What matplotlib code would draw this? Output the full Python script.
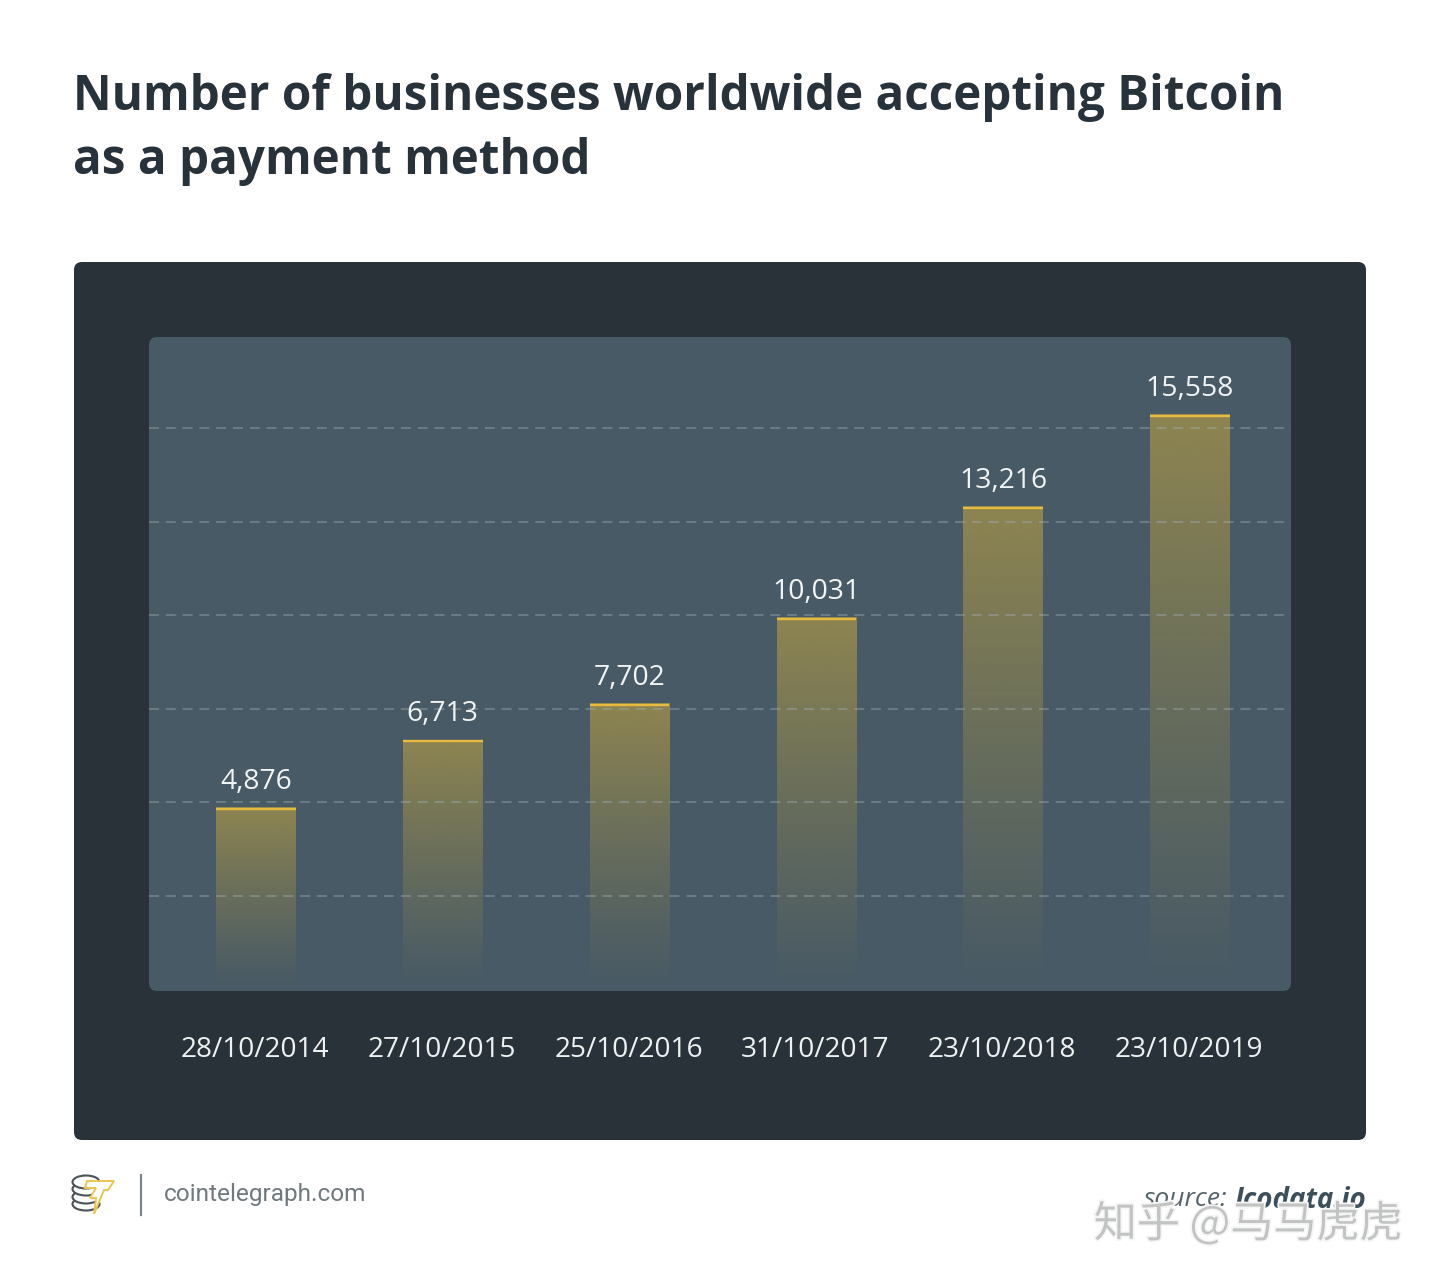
import matplotlib
matplotlib.use("Agg")
import matplotlib.pyplot as plt
import matplotlib.patheffects as pe
from matplotlib.patches import FancyBboxPatch, Ellipse, Polygon
import numpy as np

plt.rcParams['font.family'] = ['Open Sans', 'DejaVu Sans']

dates = ["28/10/2014", "27/10/2015", "25/10/2016", "31/10/2017", "23/10/2018", "23/10/2019"]
# bar heights as drawn in the picture (the 2018 bar sits a little under its label)
bar_heights = [4876, 6713, 7702, 10031, 13050, 15558]
value_labels = ["4,876", "6,713", "7,702", "10,031", "13,216", "15,558"]
grid_levels = [2490, 5030, 7580, 10120, 12660, 15205]

DARK = '#283238'
PANEL = '#485a65'
GOLD = '#e6bb3f'

fig = plt.figure(figsize=(14.4, 12.8), dpi=100, facecolor='white')

# background layer in pixels
bg = fig.add_axes([0, 0, 1, 1])
bg.set_xlim(0, 1440)
bg.set_ylim(1280, 0)
bg.axis('off')

bg.add_patch(FancyBboxPatch((82, 270), 1276, 862, boxstyle="round,pad=8,rounding_size=8",
                            fc=DARK, ec='none'))
bg.add_patch(FancyBboxPatch((157, 345), 1126, 638, boxstyle="round,pad=8,rounding_size=8",
                            fc=PANEL, ec='none'))

bg.text(73, 97, "Number of businesses worldwide accepting Bitcoin", fontsize=34.3,
        fontweight='bold', color='#27323a', va='center', ha='left')
bg.text(73, 162, "as a payment method", fontsize=34.3,
        fontweight='bold', color='#27323a', va='center', ha='left')

# chart
ax = fig.add_axes([149 / 1440, (1280 - 991) / 1280, 1142 / 1440, 654 / 1280])
ax.patch.set_visible(False)
for s in ax.spines.values():
    s.set_visible(False)

x = np.arange(len(dates))
bars = ax.bar(x, bar_heights, width=0.425, color='none', edgecolor='none')

grad = np.zeros((256, 1, 4))
grad[..., 0] = 190 / 255
grad[..., 1] = 162 / 255
grad[..., 2] = 66 / 255
grad[..., 3] = (np.linspace(0.62, 0.0, 256) ** 1.1).reshape(-1, 1)

for b in bars:
    l, w, h = b.get_x(), b.get_width(), b.get_height()
    ax.imshow(grad, extent=[l, l + w, 0, h], origin='upper', aspect='auto', zorder=1,
              interpolation='bilinear')
    ax.plot([l, l + w], [h - 20, h - 20], color=GOLD, lw=1.7, solid_capstyle='butt', zorder=3)

for xi, h, lab in zip(x, bar_heights, value_labels):
    ax.annotate(lab, (xi, h), xytext=(0, 19), textcoords='offset points', ha='center',
                va='center', fontsize=20.3, color='#f1f4f5', zorder=4)

ax.set_xlim(-0.573, 5.541)
ax.set_ylim(-98, 17679)

ax.set_yticks(grid_levels)
ax.set_yticklabels([])
ax.tick_params(axis='y', length=0)
ax.set_xticks(x - 0.005)
ax.set_xticklabels(dates, fontsize=20.2, color='#eef1f2')
ax.tick_params(axis='x', length=0, pad=32.5)
ax.set_axisbelow(False)
ax.grid(axis='y', color='#a3b2b8', alpha=0.42, lw=1.3, linestyle=(0, (5.5, 3.8)))
ax.grid(axis='x', visible=False)

# footer: logo, divider, site name
fg = fig.add_axes([0, 0, 1, 1])
fg.set_xlim(0, 1440)
fg.set_ylim(1280, 0)
fg.axis('off')
fg.set_zorder(5)

for cy in (1204, 1197, 1189, 1182):
    fg.add_patch(Ellipse((86, cy), 27, 13, fc='white', ec='#4a5358', lw=1.5))
fg.add_patch(Polygon([[87, 1181], [114, 1181], [108, 1190], [104, 1190], [94, 1214],
                      [96, 1198], [90, 1198], [96, 1188], [85, 1188]],
                     closed=True, fc='white', ec='#ecc44f', lw=1.4))
fg.plot([141, 141], [1175, 1215], color='#7b8488', lw=1.6)
fg.text(164, 1195, "cointelegraph.com", fontsize=17.6, color='#6f797e', family=['Roboto', 'DejaVu Sans'],
        va='center', ha='left')

fg.text(1227, 1200, "source:", fontsize=19, style='italic', color='#55636b', va='center', ha='right')
fg.text(1366, 1200, "Icodata.io", fontsize=20, style='italic', fontweight='bold', color='#3d4f5a',
        va='center', ha='right')

# watermark
fg.text(1248, 1225, "知乎 @马马虎虎", fontsize=31, color='#c2c4c4', ha='center', va='center',
        family=['Noto Sans CJK SC', 'DejaVu Sans'],
        path_effects=[pe.withStroke(linewidth=2.5, foreground='#f6f6f6')])

fig.savefig("out.png", dpi=100, facecolor='white')
